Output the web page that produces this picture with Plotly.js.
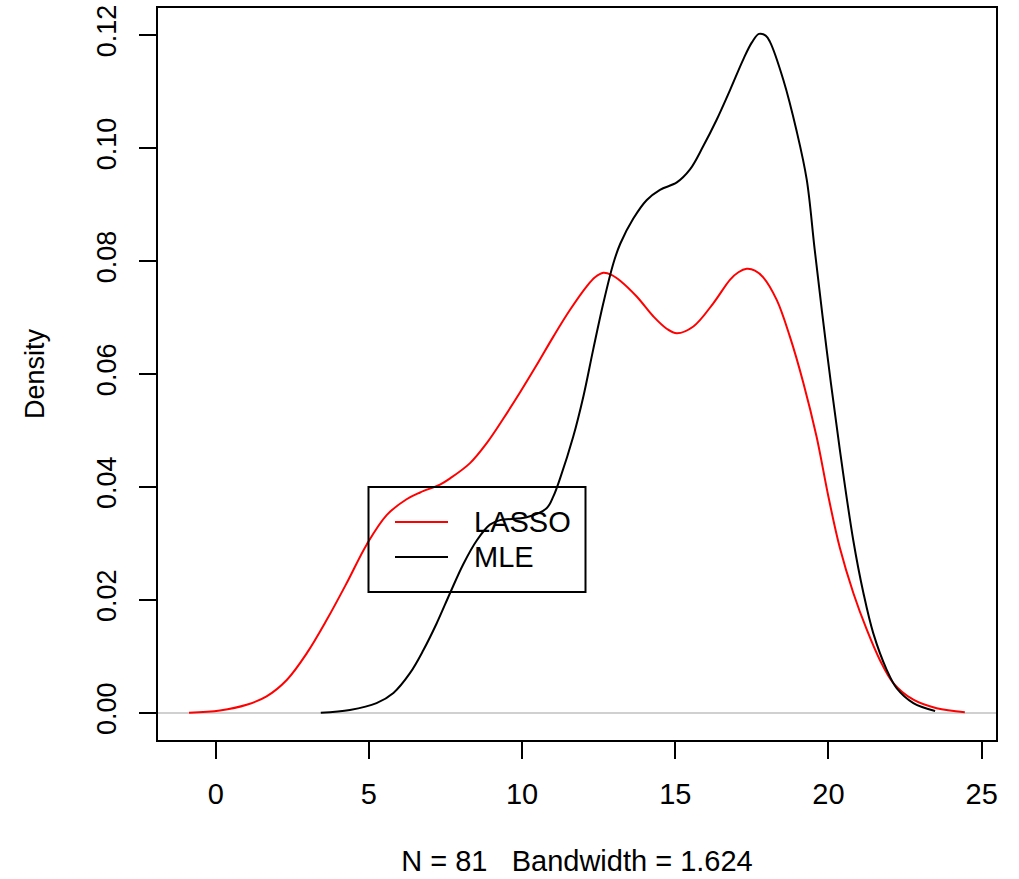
<!DOCTYPE html>
<html>
<head>
<meta charset="utf-8">
<script src="https://cdn.plot.ly/plotly-3.0.1.min.js"></script>
<style>html,body{margin:0;padding:0;background:#fff;}#chart{width:1019px;height:879px;}</style>
</head>
<body>
<div id="chart"></div>
<script>
// LASSO density curve
const lassoX = [-0.87, 0.14, 1.01, 1.66, 2.32, 2.97, 3.62, 4.28, 4.93, 5.58, 6.23, 6.67, 7.32, 7.65, 8.30, 8.84, 9.39, 9.93, 10.48, 11.02, 11.56, 12.11, 12.38, 12.65, 12.93, 13.20, 13.74, 14.28, 14.72, 15.05, 15.59, 16.24, 16.79, 17.06, 17.33, 17.60, 17.87, 18.31, 18.74, 19.18, 19.61, 20.00, 20.37, 20.81, 21.25, 21.68, 22.11, 22.77, 23.53, 24.45];
const lassoY = [0.0000, 0.0004, 0.0014, 0.0029, 0.0058, 0.0105, 0.0164, 0.0230, 0.0298, 0.0350, 0.0378, 0.0390, 0.0404, 0.0415, 0.0442, 0.0477, 0.0521, 0.0567, 0.0616, 0.0666, 0.0713, 0.0755, 0.0771, 0.0779, 0.0775, 0.0765, 0.0737, 0.0702, 0.0680, 0.0672, 0.0684, 0.0725, 0.0767, 0.0780, 0.0786, 0.0783, 0.0771, 0.0731, 0.0666, 0.0584, 0.0489, 0.0382, 0.0292, 0.0212, 0.0147, 0.0093, 0.0053, 0.0023, 0.0008, 0.0001];

// MLE density curve
const mleX = [3.43, 4.38, 5.25, 5.80, 6.34, 6.78, 7.21, 7.65, 8.08, 8.52, 8.95, 9.28, 10.15, 10.80, 11.02, 11.24, 11.67, 12.00, 12.32, 12.65, 12.98, 13.20, 13.63, 14.07, 14.50, 15.05, 15.48, 15.91, 16.35, 16.79, 17.22, 17.50, 17.73, 17.95, 18.09, 18.53, 18.96, 19.29, 19.55, 19.94, 20.37, 20.81, 21.14, 21.46, 21.90, 22.23, 22.77, 23.48];
const mleY = [0.0000, 0.0005, 0.0017, 0.0035, 0.0070, 0.0111, 0.0158, 0.0212, 0.0263, 0.0305, 0.0333, 0.0341, 0.0346, 0.0362, 0.0383, 0.0415, 0.0489, 0.0560, 0.0643, 0.0725, 0.0796, 0.0830, 0.0875, 0.0908, 0.0926, 0.0939, 0.0962, 0.1003, 0.1050, 0.1103, 0.1157, 0.1187, 0.1202, 0.1199, 0.1188, 0.1120, 0.1030, 0.0944, 0.0820, 0.0643, 0.0466, 0.0305, 0.0212, 0.0141, 0.0076, 0.0043, 0.0017, 0.0003];

const seriesNames = ["LASSO", "MLE"];
const seriesColors = ["#ff0000", "#000000"];
const xTicks = [0, 5, 10, 15, 20, 25];
const yTicks = [0, 0.02, 0.04, 0.06, 0.08, 0.10, 0.12];
const yTickText = ["0.00", "0.02", "0.04", "0.06", "0.08", "0.10", "0.12"];
const xTitle = "N = 81\u00a0\u00a0 Bandwidth = 1.624";
const yTitle = "Density";

const FONT = "Liberation Sans, Arial, Helvetica, sans-serif";

const traces = [
  {x: lassoX, y: lassoY, name: seriesNames[0], type: "scatter", mode: "lines",
   line: {color: seriesColors[0], width: 2, shape: "spline", smoothing: 1}},
  {x: mleX, y: mleY, name: seriesNames[1], type: "scatter", mode: "lines",
   line: {color: seriesColors[1], width: 2, shape: "spline", smoothing: 1}}
];

// R-style legend box (base-graphics look), placed in paper coordinates
const W = 1019, H = 879, ML = 158, MR = 23, MT = 8, MB = 139;
const pw = W - ML - MR, ph = H - MT - MB;
const px = v => (v - ML) / pw;
const py = v => (H - MB - v) / ph;
const legBox = {left: 368.5, right: 585.5, top: 487, bottom: 592};
const legRows = [522, 557];
const shapes = [{
  type: "rect", xref: "paper", yref: "paper", layer: "above",
  x0: px(legBox.left), x1: px(legBox.right), y0: py(legBox.bottom), y1: py(legBox.top),
  line: {color: "#000", width: 2}, fillcolor: "rgba(0,0,0,0)"
}];
const annotations = [];
seriesNames.forEach((nm, i) => {
  shapes.push({type: "line", xref: "paper", yref: "paper", layer: "above",
    x0: px(395), x1: px(448), y0: py(legRows[i]), y1: py(legRows[i]),
    line: {color: seriesColors[i], width: 2}});
  annotations.push({xref: "paper", yref: "paper", x: px(472), y: py(legRows[i]),
    xanchor: "left", yanchor: "middle", showarrow: false, text: nm,
    font: {family: FONT, size: 29, color: "#000"}});
});

const layout = {
  width: W, height: H,
  margin: {l: ML, r: MR, t: MT, b: MB},
  paper_bgcolor: "#ffffff", plot_bgcolor: "#ffffff",
  font: {family: FONT, size: 27, color: "#000"},
  showlegend: false,
  shapes: shapes,
  annotations: annotations,
  xaxis: {
    range: [-1.883, 25.467], tickmode: "array", tickvals: xTicks,
    ticks: "outside", ticklen: 17, tickwidth: 2, tickcolor: "#000",
    showline: true, linecolor: "#000", linewidth: 2, mirror: true,
    showgrid: false, zeroline: false,
    tickfont: {family: FONT, size: 29, color: "#000"},
    ticklabelstandoff: 10,
    title: {text: xTitle, font: {family: FONT, size: 29, color: "#000"}, standoff: 42}
  },
  yaxis: {
    range: [-0.00483, 0.12479], tickmode: "array", tickvals: yTicks, ticktext: yTickText,
    tickangle: -90,
    ticks: "outside", ticklen: 17, tickwidth: 2, tickcolor: "#000",
    showline: true, linecolor: "#000", linewidth: 2, mirror: true,
    showgrid: false, zeroline: true, zerolinecolor: "#d0d0d0", zerolinewidth: 2,
    tickfont: {family: FONT, size: 27, color: "#000"},
    ticklabelstandoff: 12,
    title: {text: yTitle, font: {family: FONT, size: 27, color: "#000"}, standoff: 40}
  }
};

Plotly.newPlot("chart", traces, layout, {displayModeBar: false, staticPlot: true});
</script>
</body>
</html>
